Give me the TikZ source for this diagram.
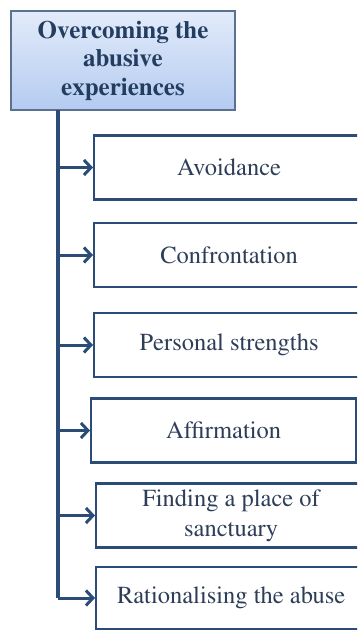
\documentclass[tikz,border=0pt]{standalone}
\usepackage[T1]{fontenc}
\usepackage{mathptmx}
\usetikzlibrary{arrows.meta}

\definecolor{boxblue}{HTML}{2C4C78}
\definecolor{inkblue}{HTML}{2E3D58}
\definecolor{headline}{HTML}{5C7090}
\definecolor{headtop}{HTML}{E2EBFA}
\definecolor{headbot}{HTML}{B4CBF0}

\tikzset{
  headbox/.style={draw=headline, line width=1.4pt, top color=headtop, bottom color=headbot,
    minimum width=224pt, minimum height=99pt, inner sep=0pt, align=center,
    text=boxblue!80!black, font=\fontsize{25}{28.5}\selectfont\bfseries},
  itembox/.style={draw=boxblue, line width=2.2pt, fill=white, anchor=west,
    minimum height=64pt, inner sep=0pt, align=center,
    text=inkblue, font=\fontsize{24.5}{30}\selectfont},
  spine/.style={draw=boxblue, line width=3.2pt},
  arrow/.style={draw=boxblue, line width=3pt, -{Straight Barb[length=7pt,width=15pt]}}
}

\begin{document}
\begin{tikzpicture}[x=1pt,y=-1pt]
        % Fix the page to the reference size
        \clip (0,0) rectangle (357,631);

        % Draw the heading box
        \node[headbox] (head) at (123,60.5) {Overcoming the\\abusive\\experiences};

        % Draw the strategy boxes
        \node[itembox, minimum width=270pt] (avoid) at (93,167.5) {Avoidance};
        \node[itembox, minimum width=270pt] (confront) at (93,255) {Confrontation};
        \node[itembox, minimum width=270pt] (strength) at (93,345) {Personal strengths};
        \node[itembox, minimum width=265pt] (affirm) at (90,430.5) {Affirmation};
        \node[itembox, minimum width=270pt] (sanctuary) at (95,515.5) {Finding a place of\\sanctuary};
        \node[itembox, minimum width=270pt, minimum height=62pt] (rational) at (95,598) {Rationalising the abuse};

        % Draw the spine below the heading
        \coordinate (spine) at (58,110);
        \draw[spine] (spine) -- (spine |- rational.west);

        % Draw the arrows into each box
        \foreach \n in {avoid,confront,strength,affirm,sanctuary,rational}
        {
          \draw[arrow] (spine |- \n.west) -- (\n.west);
        }
      \end{tikzpicture}
\end{document}
